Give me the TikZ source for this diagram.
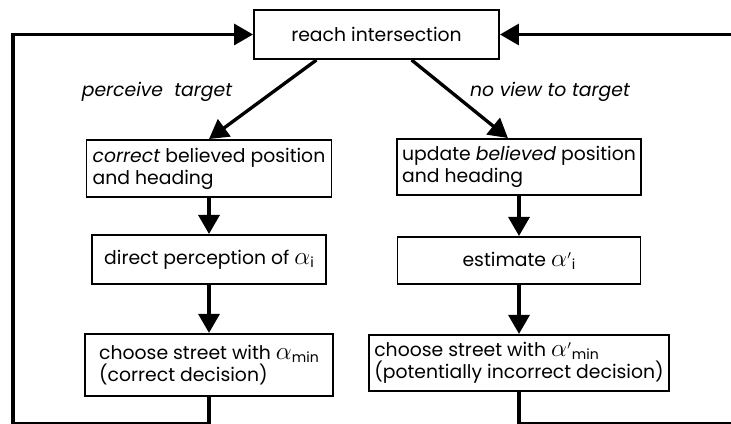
\documentclass[tikz,border=0pt]{standalone}
\usepackage{fontspec}
\setmainfont{Poppins}
\usepackage{amsmath}
\usetikzlibrary{arrows.meta, positioning}
\newcommand{\lowidx}[1]{\raisebox{-0.3ex}{\footnotesize #1}}
\newcommand{\bigalpha}{{\fontsize{14}{14}\selectfont$\alpha$}}

\begin{document}
\begin{tikzpicture}[font=\fontsize{10.7}{12.5}\selectfont,
    stepbox/.style={rectangle, draw=black, line width=1.1pt, minimum width=4.9cm,
      minimum height=1.14cm, inner sep=3pt},
    flowarrow/.style={-{Triangle[length=0.38cm, width=0.42cm]}, line width=1.9pt},
    branchlabel/.style={font=\fontsize{10.7}{12.5}\selectfont\itshape}]

    \useasboundingbox (0,0) rectangle (14.62,-8.46);

    \node (reach) [stepbox, minimum height=0.98cm] at (7.53,-0.69) {reach intersection};

    % perceive target
    \node (correct) [stepbox, align=left] at (4.18,-3.37)
      {\textit{correct} believed position\\and heading};
    \node (direct) [stepbox, below=0.72cm of correct, minimum width=4.68cm, minimum height=0.98cm]
      {direct perception of \bigalpha\lowidx{i}};
    \node (chooseL) [stepbox, below=0.96cm of direct, minimum width=4.96cm, minimum height=1.24cm, align=left]
      {choose street with \bigalpha\lowidx{min}\\(correct decision)};

    % no view to target
    \node (update) [stepbox, align=left, minimum width=4.84cm, minimum height=1.12cm] at (10.38,-3.34)
      {update \textit{believed} position\\and heading};
    \node (estimate) [stepbox, below=0.8cm of update, minimum width=4.86cm, minimum height=0.94cm]
      {estimate \bigalpha$'$\lowidx{i}};
    \node (chooseR) [stepbox, below=0.98cm of estimate, minimum width=5.1cm, minimum height=1.12cm, align=left]
      {choose street with \bigalpha$'$\lowidx{min}\\(potentially incorrect decision)};

    \node (seen) [branchlabel] at (3.14,-1.84) {perceive\ \ target};
    \node (unseen) [branchlabel] at (11.0,-1.84) {no view to target};

    \coordinate (loopL) at (0.26,-8.48);
    \coordinate (loopR) at (14.9,-8.48);

    \draw [flowarrow] (reach.203) -- (correct.north);
    \draw [flowarrow] (reach.-36) -- (update.111);
    \draw [flowarrow] (correct) -- (direct);
    \draw [flowarrow] (direct) -- (chooseL);
    \draw [flowarrow] (update) -- (estimate);
    \draw [flowarrow] (estimate) -- (chooseR);

    % back to the next intersection
    \draw [flowarrow] (chooseL.south) |- (loopL) |- (reach.west);
    \draw [flowarrow] (chooseR.south) |- (loopR) |- (reach.east);
\end{tikzpicture}
\end{document}
